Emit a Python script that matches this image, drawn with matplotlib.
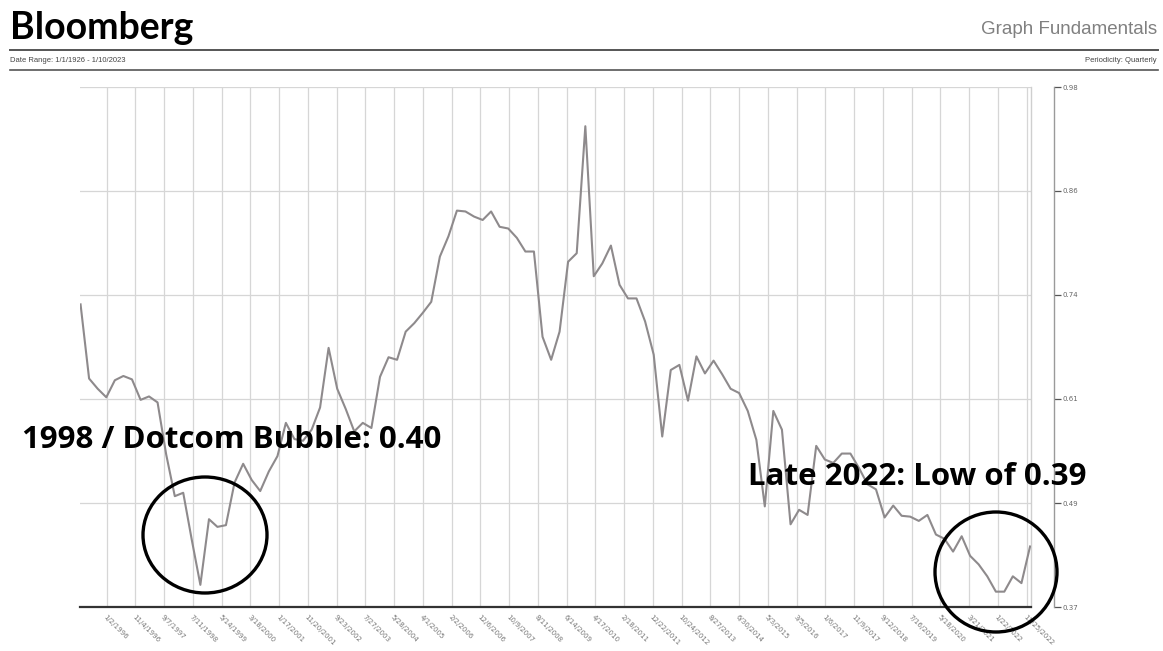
import matplotlib
matplotlib.use('Agg')
import matplotlib.pyplot as plt
from matplotlib.patches import Ellipse
import numpy as np
import pandas as pd

W, H = 1163, 651

# ---------------- data ----------------
start_quarter = '1995-03-31'
end_date = '2023-01-10'
ratio = [
    0.725, 0.638, 0.626, 0.616, 0.636, 0.641, 0.637, 0.613, 0.617, 0.610,
    0.549, 0.500, 0.504, 0.449, 0.396, 0.473, 0.464, 0.466, 0.516, 0.538,
    0.519, 0.506, 0.529, 0.547, 0.586, 0.567, 0.565, 0.578, 0.604, 0.674,
    0.626, 0.602, 0.576, 0.586, 0.580, 0.640, 0.663, 0.660, 0.693, 0.703,
    0.715, 0.728, 0.781, 0.805, 0.835, 0.834, 0.828, 0.824, 0.834, 0.816,
    0.814, 0.803, 0.787, 0.787, 0.687, 0.660, 0.693, 0.775, 0.785, 0.934,
    0.758, 0.773, 0.794, 0.748, 0.732, 0.732, 0.705, 0.666, 0.570, 0.648,
    0.654, 0.612, 0.664, 0.644, 0.659, 0.643, 0.626, 0.621, 0.600, 0.566,
    0.488, 0.600, 0.578, 0.467, 0.484, 0.478, 0.559, 0.543, 0.539, 0.550,
    0.550, 0.533, 0.514, 0.508, 0.475, 0.489, 0.477, 0.476, 0.471, 0.478,
    0.455, 0.450, 0.435, 0.453, 0.430, 0.420, 0.406, 0.388, 0.388, 0.406,
    0.398, 0.441,
]
x_tick_labels = [
    '1/2/1996', '11/4/1996', '9/7/1997', '7/11/1998', '5/14/1999', '3/18/2000',
    '1/17/2001', '11/20/2001', '9/23/2002', '7/27/2003', '5/28/2004', '4/1/2005',
    '2/2/2006', '12/6/2006', '10/9/2007', '8/11/2008', '6/14/2009', '4/17/2010',
    '2/18/2011', '12/22/2011', '10/24/2012', '8/27/2013', '6/30/2014', '5/3/2015',
    '3/5/2016', '1/6/2017', '11/9/2017', '9/12/2018', '7/16/2019', '5/18/2020',
    '3/21/2021', '1/22/2022', '11/25/2022',
]
y_tick_labels = ['0.37', '0.49', '0.61', '0.74', '0.86', '0.98']
y_min, y_max = 0.37, 0.98

title_left = 'Bloomberg'
title_right = 'Graph Fundamentals'
date_range_text = 'Date Range: 1/1/1926 - 1/10/2023'
periodicity_text = 'Periodicity: Quarterly'
note_left = '1998 / Dotcom Bubble: 0.40'
note_right = 'Late 2022: Low of 0.39'

# ---------------- figure ----------------
dates = pd.date_range(start_quarter, periods=len(ratio), freq='QE')
tick_dates = pd.to_datetime(x_tick_labels, format='%m/%d/%Y')

fig = plt.figure(figsize=(W / 100, H / 100), dpi=100)
fig.patch.set_facecolor('white')

def fx(px):
    return px / W

def fy(py):
    return 1 - py / H

ax = fig.add_axes([fx(80), fy(607), (1031 - 80) / W, (607 - 87) / H])
ax.plot(dates, ratio, color='#8e8a8c', lw=1.5, zorder=3)

ax.set_xlim(dates[0] - pd.Timedelta(days=6), pd.Timestamp(end_date))
ax.set_ylim(y_min, y_max)

yt = np.linspace(y_min, y_max, len(y_tick_labels))
ax.set_yticks(yt)
ax.set_yticklabels(y_tick_labels)
ax.set_xticks(tick_dates)
ax.set_xticklabels(x_tick_labels, rotation=-45, ha='left', va='top',
                   rotation_mode='anchor')

ax.grid(True, color='#d6d6d6', lw=0.9, zorder=1)
ax.set_axisbelow(True)

for s in ['left', 'top']:
    ax.spines[s].set_visible(False)
ax.spines['bottom'].set_color('#333333')
ax.spines['bottom'].set_linewidth(1.6)
ax.spines['right'].set_position(('outward', 23 * 72 / 100))
ax.spines['right'].set_color('#9a9a9a')
ax.spines['right'].set_linewidth(1.0)
ax.axvline(ax.get_xlim()[1], color='#cfcfcf', lw=1.0, clip_on=False, zorder=1)

ax.yaxis.tick_right()
ax.tick_params(axis='y', direction='out', length=5, width=0.9, color='#555555',
               labelsize=5, labelcolor='#666666', pad=1)
ax.tick_params(axis='x', length=0, labelsize=5, labelcolor='#777777', pad=5)

# ---------------- header ----------------
fig.text(fx(10), fy(28), title_left, fontsize=27, fontweight='bold',
         family='Lato', color='black', va='center', ha='left')
fig.text(fx(1157), fy(29), title_right, fontsize=13.5, family='Liberation Sans',
         color='#808080', va='center', ha='right')
fig.add_artist(plt.Line2D([fx(10), fx(1158)], [fy(50), fy(50)], color='#555555', lw=1.4))
fig.add_artist(plt.Line2D([fx(10), fx(1158)], [fy(70), fy(70)], color='#555555', lw=1.2))
fig.text(fx(10), fy(60), date_range_text, fontsize=5.5, family='Liberation Sans',
         color='#444444', va='center', ha='left')
fig.text(fx(1157), fy(60), periodicity_text, fontsize=5.5, family='Liberation Sans',
         color='#444444', va='center', ha='right')

# ---------------- annotations ----------------
fig.text(fx(22), fy(440), note_left, fontsize=22.5, fontweight='bold', family='Open Sans',
         color='black', va='center', ha='left')
fig.text(fx(748), fy(477), note_right, fontsize=22.5, fontweight='bold', family='Open Sans',
         color='black', va='center', ha='left')
fig.add_artist(Ellipse((fx(205), fy(535)), 124 / W, 116 / H, transform=fig.transFigure,
                       fill=False, ec='black', lw=2.4, zorder=5))
fig.add_artist(Ellipse((fx(996), fy(572)), 122 / W, 120 / H, transform=fig.transFigure,
                       fill=False, ec='black', lw=2.4, zorder=5))

fig.savefig('out.png', dpi=100, facecolor='white')
